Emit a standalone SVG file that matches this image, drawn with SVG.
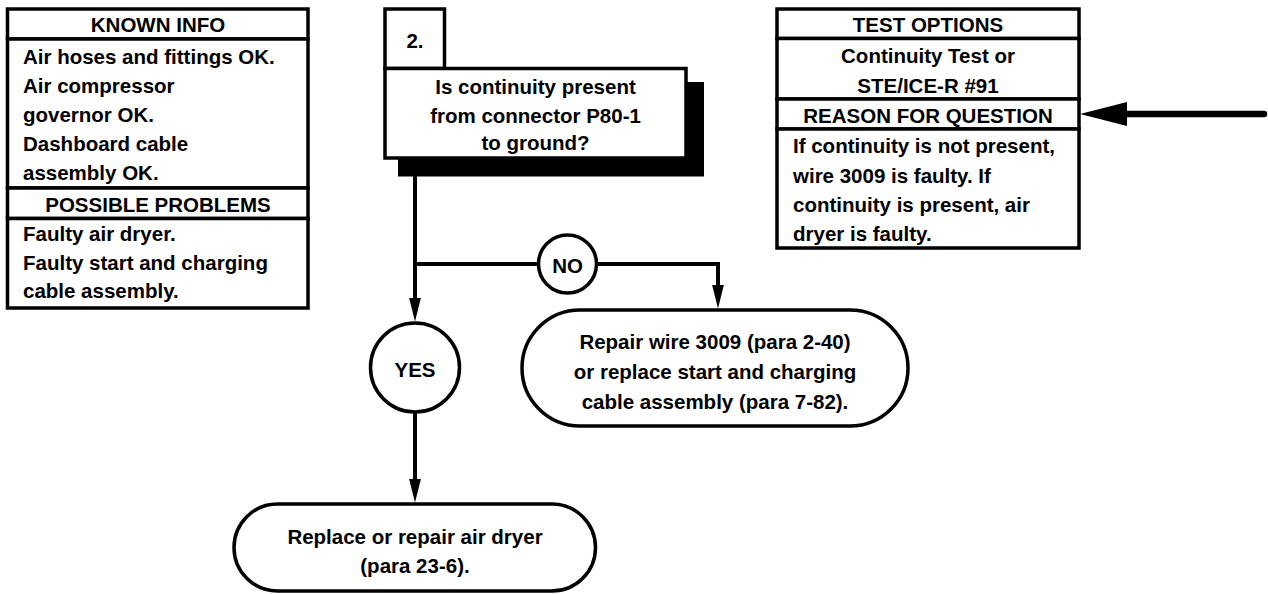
<svg xmlns="http://www.w3.org/2000/svg" width="1268" height="594" viewBox="0 0 1268 594">
<style>
.box{fill:#fff;stroke:#000;stroke-width:3.5}
.t{font-family:"Liberation Sans",Arial,sans-serif;font-weight:bold;font-size:20.5px;fill:#000}
.c{text-anchor:middle}
.ln{fill:none;stroke:#000;stroke-width:4}
</style>
<defs>
<marker id="ah" markerUnits="userSpaceOnUse" markerWidth="24" markerHeight="12" refX="16" refY="6" orient="auto" viewBox="0 0 24 12">
<path d="M0,0 L24,6 L0,12 Z" fill="#000"/>
</marker>
</defs>
<rect width="1268" height="594" fill="#fff"/>

<g id="known-info">
<rect class="box" x="7.5" y="9" width="300.5" height="30"/>
<rect class="box" x="7.5" y="39" width="300.5" height="149"/>
<rect class="box" x="7.5" y="188" width="300.5" height="30.5"/>
<rect class="box" x="7.5" y="218.5" width="300.5" height="89.5"/>
<text class="t c" x="158" y="32">KNOWN INFO</text>
<text class="t" x="23" y="64">Air hoses and fittings OK.</text>
<text class="t" x="23" y="93">Air compressor</text>
<text class="t" x="23" y="122">governor OK.</text>
<text class="t" x="23" y="151">Dashboard cable</text>
<text class="t" x="23" y="180">assembly OK.</text>
<text class="t c" x="158" y="212">POSSIBLE PROBLEMS</text>
<text class="t" x="23" y="241">Faulty air dryer.</text>
<text class="t" x="23" y="270">Faulty start and charging</text>
<text class="t" x="23" y="298">cable assembly.</text>
</g>

<g id="step-2">
<rect x="398" y="82" width="306" height="94.5" fill="#000"/>
<rect class="box" x="385" y="9" width="59.5" height="59.5"/>
<rect class="box" x="385" y="68.5" width="301" height="89.5"/>
<text class="t c" x="415" y="48">2.</text>
<text class="t c" x="535.5" y="94">Is continuity present</text>
<text class="t c" x="535.5" y="122.5">from connector P80-1</text>
<text class="t c" x="535.5" y="150">to ground?</text>
</g>

<g id="test-options">
<rect class="box" x="777" y="9" width="302" height="29.5"/>
<rect class="box" x="777" y="38.5" width="302" height="60.5"/>
<rect class="box" x="777" y="99" width="302" height="30"/>
<rect class="box" x="777" y="129" width="302" height="119"/>
<text class="t c" x="928" y="32">TEST OPTIONS</text>
<text class="t c" x="928" y="63">Continuity Test or</text>
<text class="t c" x="928" y="92.5">STE/ICE-R #91</text>
<text class="t c" x="928" y="123">REASON FOR QUESTION</text>
<text class="t" x="793" y="153">If continuity is not present,</text>
<text class="t" x="793" y="182.5">wire 3009 is faulty. If</text>
<text class="t" x="793" y="211.5">continuity is present, air</text>
<text class="t" x="793" y="240.5">dryer is faulty.</text>
</g>

<g id="no-label">
<circle class="box" cx="567.5" cy="264" r="29"/>
<text class="t c" x="567.5" y="272.5">NO</text>
</g>

<g id="yes-label">
<circle class="box" cx="415" cy="367.5" r="44.5"/>
<text class="t c" x="415" y="376.5">YES</text>
</g>

<g id="repair-wire">
<rect class="box" x="522" y="310" width="386" height="116" rx="58" ry="58"/>
<text class="t c" x="715" y="348.5">Repair wire 3009 (para 2-40)</text>
<text class="t c" x="715" y="378.5">or replace start and charging</text>
<text class="t c" x="715" y="408.5">cable assembly (para 7-82).</text>
</g>

<g id="replace-dryer">
<rect class="box" x="234" y="504" width="361.5" height="87" rx="43.5" ry="43.5"/>
<text class="t c" x="415" y="543.5">Replace or repair air dryer</text>
<text class="t c" x="415" y="573">(para 23-6).</text>
</g>

<g id="connectors">
<path class="ln" d="M415,176 L415,313.5" marker-end="url(#ah)"/>
<path class="ln" d="M415,264 L538.5,264"/>
<path class="ln" d="M596.5,264 L718,264 L718,300.5" marker-end="url(#ah)"/>
<path class="ln" d="M415,412 L415,494.5" marker-end="url(#ah)"/>
<line x1="1127" y1="114" x2="1264" y2="114" stroke="#000" stroke-width="6.5" stroke-linecap="round"/>
<polygon points="1080,114 1127,102 1127,126" fill="#000"/>
</g>
</svg>
